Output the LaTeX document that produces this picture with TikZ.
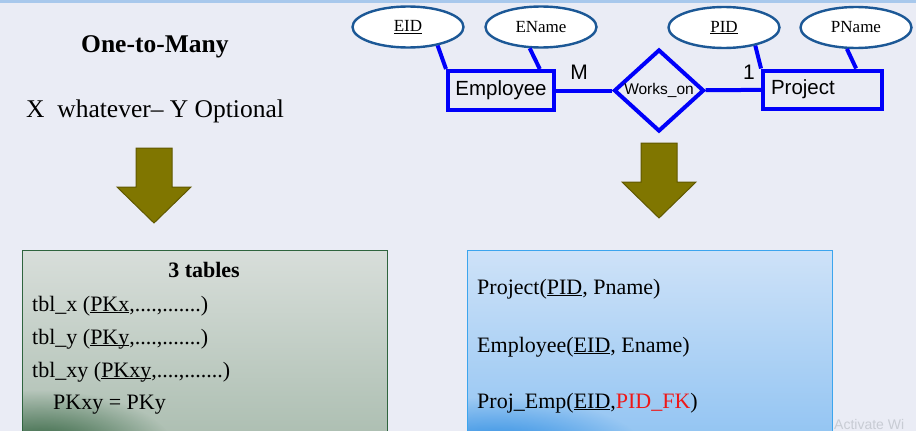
\documentclass[tikz,border=0pt]{standalone}
\usepackage{fontspec}
\setmainfont{Liberation Serif}
\setsansfont{Liberation Sans}
\usetikzlibrary{shapes.geometric,fadings}

\definecolor{slidebg}{RGB}{234,236,245}
\definecolor{topband}{RGB}{168,200,236}
\definecolor{erblue}{RGB}{0,0,250}
\definecolor{attrblue}{RGB}{28,88,150}
\definecolor{olivefill}{RGB}{128,118,0}
\definecolor{oliveedge}{RGB}{96,88,0}
\definecolor{greenedge}{RGB}{47,100,62}
\definecolor{greentop}{RGB}{216,222,218}
\definecolor{greenbot}{RGB}{172,190,177}
\definecolor{greendeep}{RGB}{36,88,50}
\definecolor{bluetop}{RGB}{206,226,248}
\definecolor{bluebot}{RGB}{146,196,242}
\definecolor{bluedeep}{RGB}{36,136,225}
\definecolor{blueedge}{RGB}{60,165,238}
\definecolor{fkred}{RGB}{238,24,24}
\definecolor{actgray}{RGB}{200,204,212}

\tikzfading[name=cornerglow, inner color=transparent!0, outer color=transparent!100]

\tikzset{
  bigarrow/.pic={
    \filldraw[fill=olivefill, draw=oliveedge, line width=1pt]
      (-18,0) -- (18,0) -- (18,39) -- (37,39) -- (0,75) -- (-37,39) -- (-18,39) -- cycle;
  }
}

\begin{document}
\begin{tikzpicture}[x=1pt,y=-1pt]

  \useasboundingbox (0,0) rectangle (916,431);
  \fill[slidebg] (0,0) rectangle (916,431);
  \fill[topband] (0,0) rectangle (916,3);

  \begin{scope}[every node/.style={anchor=west, inner sep=0pt, font=\fontsize{25.5}{30}\selectfont}]
    \node (title) at (81,47) {\textbf{One-to-Many}};
    \node (cond)  at (26,111.5) {X~ whatever– Y Optional};
  \end{scope}

  \pic at (154,148) {bigarrow};
  \pic at (659,143) {bigarrow};

  \shade[top color=greentop, bottom color=greenbot] (22,250) rectangle (387,440);
  \begin{scope}
    \clip (22,250) rectangle (387,440);
    \fill[greendeep, path fading=cornerglow] (40,452) ellipse (135pt and 62pt);
  \end{scope}
  \draw[greenedge, line width=1pt] (22,250) rectangle (387,440);

  \shade[top color=bluetop, bottom color=bluebot] (467,250) rectangle (832,440);
  \begin{scope}
    \clip (467,250) rectangle (832,440);
    \fill[bluedeep, path fading=cornerglow] (495,452) ellipse (150pt and 55pt);
  \end{scope}
  \draw[blueedge, line width=1pt] (467,250) rectangle (832,440);

  \begin{scope}[every node/.style={ellipse, draw=attrblue, line width=2.4pt, fill=white,
      minimum width=111pt, minimum height=41pt, inner sep=0pt, font=\fontsize{17}{20}\selectfont}]
    \node (eid)   at (408,27) {\underline{EID}};
    \node (ename) at (541,27) {EName};
    \node (pid)   at (724,27.5) {\underline{PID}};
    \node (pname) at (856,27.5) {PName};
  \end{scope}

  \begin{scope}[every node/.style={draw=erblue, line width=4pt, fill=slidebg, inner sep=0pt,
      font=\sffamily\fontsize{20.5}{24}\selectfont}]
    \node[minimum width=106pt, minimum height=39pt] (emp) at (501,90.5) {Employee};
    \node[minimum width=119pt, minimum height=38pt, text width=103pt, align=left] (proj) at (822.5,89.5) {Project};
    \node[diamond, aspect=1.1, minimum width=90pt, minimum height=82pt,
      font=\sffamily\fontsize{15.5}{18}\selectfont] (works) at (659,90.5) {Works\_on};
  \end{scope}

  \begin{scope}[every edge/.style={draw=erblue, line width=4pt}]
    \path (eid.-32)    edge (emp.north west);
    \path (ename.-118) edge (emp.29);
    \path (pid.-30)    edge (proj.north west);
    \path (pname.-113) edge (proj.32);
    \path (emp)        edge (works);
    \path (works)      edge (proj);
  \end{scope}

  \begin{scope}[every node/.style={inner sep=0pt, font=\sffamily\fontsize{21}{24}\selectfont}]
    \node (many) at (579,72) {M};
    \node (one)  at (749,72) {1};
  \end{scope}

  \begin{scope}[every node/.style={anchor=west, inner sep=0pt, font=\fontsize{22}{26}\selectfont}]
    \node[anchor=center, font=\bfseries\fontsize{22}{26}\selectfont] (tables) at (204,270) {3 tables};
    \node (tblx)  at (32,306) {tbl\_x (\underline{\smash{PKx}},....,.......)};
    \node (tbly)  at (32,339) {tbl\_y (\underline{\smash{PKy}},....,.......)};
    \node (tblxy) at (32,372) {tbl\_xy (\underline{\smash{PKxy}},....,.......)};
    \node (pkeq)  at (53,405) {PKxy = PKy};
    \node (rproj) at (477,289) {Project(\underline{\smash{PID}}, Pname)};
    \node (remp)  at (477,347) {Employee(\underline{\smash{EID}}, Ename)};
    \node (rpe)   at (477,403) {Proj\_Emp(\underline{\smash{EID}},\textcolor{fkred}{PID\_FK})};
  \end{scope}

  \node[anchor=west, inner sep=0pt, text=actgray, font=\sffamily\fontsize{14}{17}\selectfont] (activate) at (834,424) {Activate Wi};

\end{tikzpicture}
\end{document}
